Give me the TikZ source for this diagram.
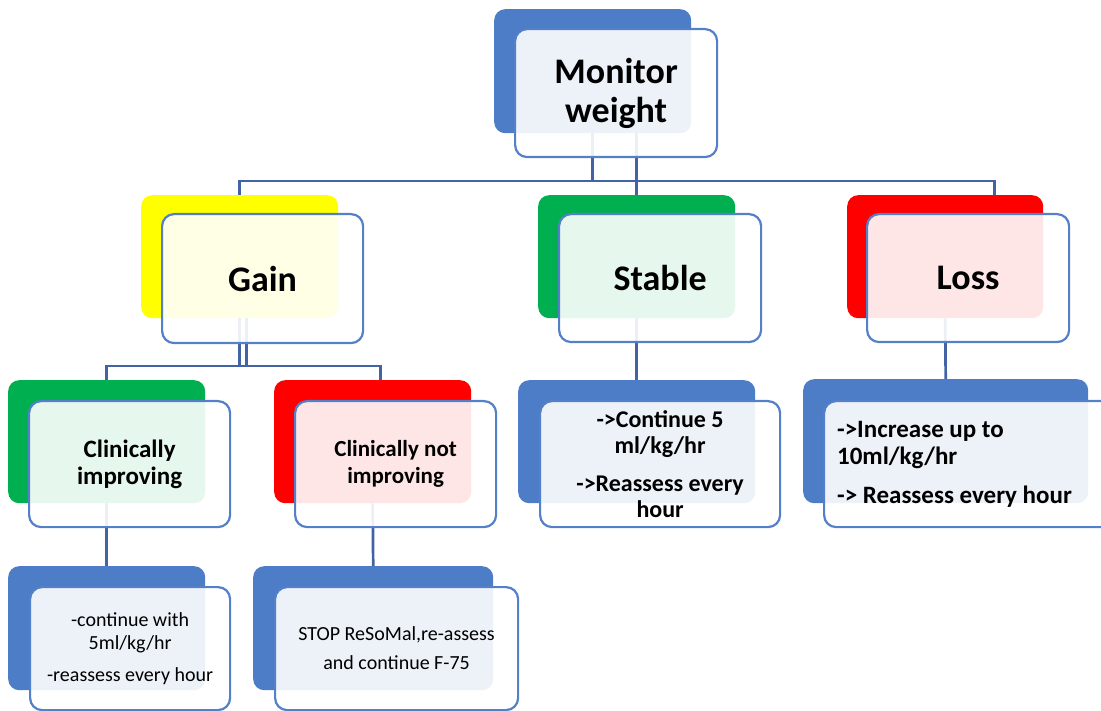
\documentclass[tikz,border=0pt]{standalone}
\usepackage{fontspec}
\setmainfont{Carlito}
\usetikzlibrary{calc}
\definecolor{boxblue}{RGB}{78,125,199}
\definecolor{rimblue}{RGB}{84,127,201}
\definecolor{linkblue}{RGB}{66,100,164}
\definecolor{gainyellow}{RGB}{255,255,0}
\definecolor{okgreen}{RGB}{0,176,80}
\definecolor{badred}{RGB}{255,0,0}
\tikzset {
    back box/.style = {rectangle, rounded corners = 11pt, anchor = north west, inner sep = 0pt},
    front box/.style = {
        rectangle, rounded corners = 12pt, anchor = north west,
        draw = rimblue, line width = 2.2pt,
        fill = white, fill opacity = 0.9, text opacity = 1,
        align = center, inner sep = 0pt
    },
    link/.style = {draw = linkblue, line width = 2.7pt},
    big text/.style = {font = \fontsize{36}{39}\selectfont\bfseries},
    mid text/.style = {font = \fontsize{#1}{26.5}\selectfont\bfseries},
    mid text/.default = 25,
    note text/.style = {font = \fontsize{20}{#1}\selectfont},
    note text/.default = 23
}
\begin{document}
\begin{tikzpicture}[x = 1pt, y = -1pt]
    \useasboundingbox (0, 0) rectangle (1101, 711);
    \node (mon) [back box, fill = boxblue, minimum width = 197pt, minimum height = 124pt] at (494, 9) {};
    \node (gain) [back box, fill = gainyellow, minimum width = 197pt, minimum height = 123pt] at (141, 195) {};
    \node (stable) [back box, fill = okgreen, minimum width = 197pt, minimum height = 123pt] at (538, 195) {};
    \node (loss) [back box, fill = badred, minimum width = 196pt, minimum height = 123pt] at (847, 195) {};
    \node (imp) [back box, fill = okgreen, minimum width = 197pt, minimum height = 123pt] at (8, 380) {};
    \node (nimp) [back box, fill = badred, minimum width = 197pt, minimum height = 123pt] at (274, 380) {};
    \node (stable2) [back box, fill = boxblue, minimum width = 237pt, minimum height = 123pt] at (518, 380) {};
    \node (loss2) [back box, fill = boxblue, minimum width = 285pt, minimum height = 124pt] at (803, 379) {};
    \node (imp2) [back box, fill = boxblue, minimum width = 197pt, minimum height = 124pt] at (8, 566) {};
    \node (nimp2) [back box, fill = boxblue, minimum width = 240pt, minimum height = 124pt] at (253, 566) {};

    \coordinate (bus1) at (0, 181);
    \coordinate (bus2) at (0, 366);
    \coordinate (loss drop) at ([xshift = 49pt]loss.north);
    \coordinate (nimp drop) at ([xshift = 8pt]nimp.north);
    \coordinate (gain foot) at ([xshift = 7pt]gain.south);
    \draw [link] (mon.south) -- (mon.south |- bus1);
    \draw [link] (gain.north) |- (loss drop |- bus1) -- (loss drop);
    \draw [link] (mon.south -| stable.north) -- (stable.north);
    \draw [link] (gain.south) -- (gain.south |- bus2);
    \draw [link] (imp.north) |- (nimp drop |- bus2) -- (nimp drop);
    \draw [link] (gain foot) -- (gain foot |- bus2);
    \draw [link] (stable.south) -- (stable2.north);
    \draw [link] (loss.south) -- (loss2.north);
    \draw [link] (imp.south) -- (imp2.north);
    \draw [link] (nimp.south) -- (nimp2.north);

    \node (monF) [front box, big text, minimum width = 202pt, minimum height = 128pt] at (514, 28) {Monitor\\weight};
    \node (gainF) [front box, big text, minimum width = 201pt, minimum height = 129pt] at (161, 213) {Gain};
    \node (stableF) [front box, big text, minimum width = 202pt, minimum height = 128pt] at (558, 213) {Stable};
    \node (lossF) [front box, big text, minimum width = 202pt, minimum height = 128pt] at (866, 213) {Loss};
    \node (impF) [front box, mid text, minimum width = 201pt, minimum height = 126pt] at (28, 400) {Clinically\\improving};
    \node (nimpF) [front box, mid text = 23, minimum width = 201pt, minimum height = 126pt] at (294, 400) {Clinically not\\improving};
    \node (stable2F) [front box, mid text = 24, minimum width = 240pt, minimum height = 126pt] at (539, 400)
        {->Continue 5\\ml/kg/hr\\[11pt]->Reassess every\\hour};
    \node (loss2F) [front box, font = \fontsize{25}{27}\selectfont\bfseries, align = flush left, text width = 263pt,
        inner xsep = 13pt, minimum height = 126pt] at (823, 400)
        {->Increase up to\\10ml/kg/hr\\[12pt]-> Reassess every hour};
    \node (imp2F) [front box, note text, minimum width = 200pt, minimum height = 123pt] at (29, 586)
        {-continue with\\5ml/kg/hr\\[9pt]-reassess every hour};
    \node (nimp2F) [front box, note text = 29, minimum width = 243pt, minimum height = 123pt] at (274, 586)
        {STOP ReSoMal,re-assess\\and continue F-75};
\end{tikzpicture}
\end{document}
